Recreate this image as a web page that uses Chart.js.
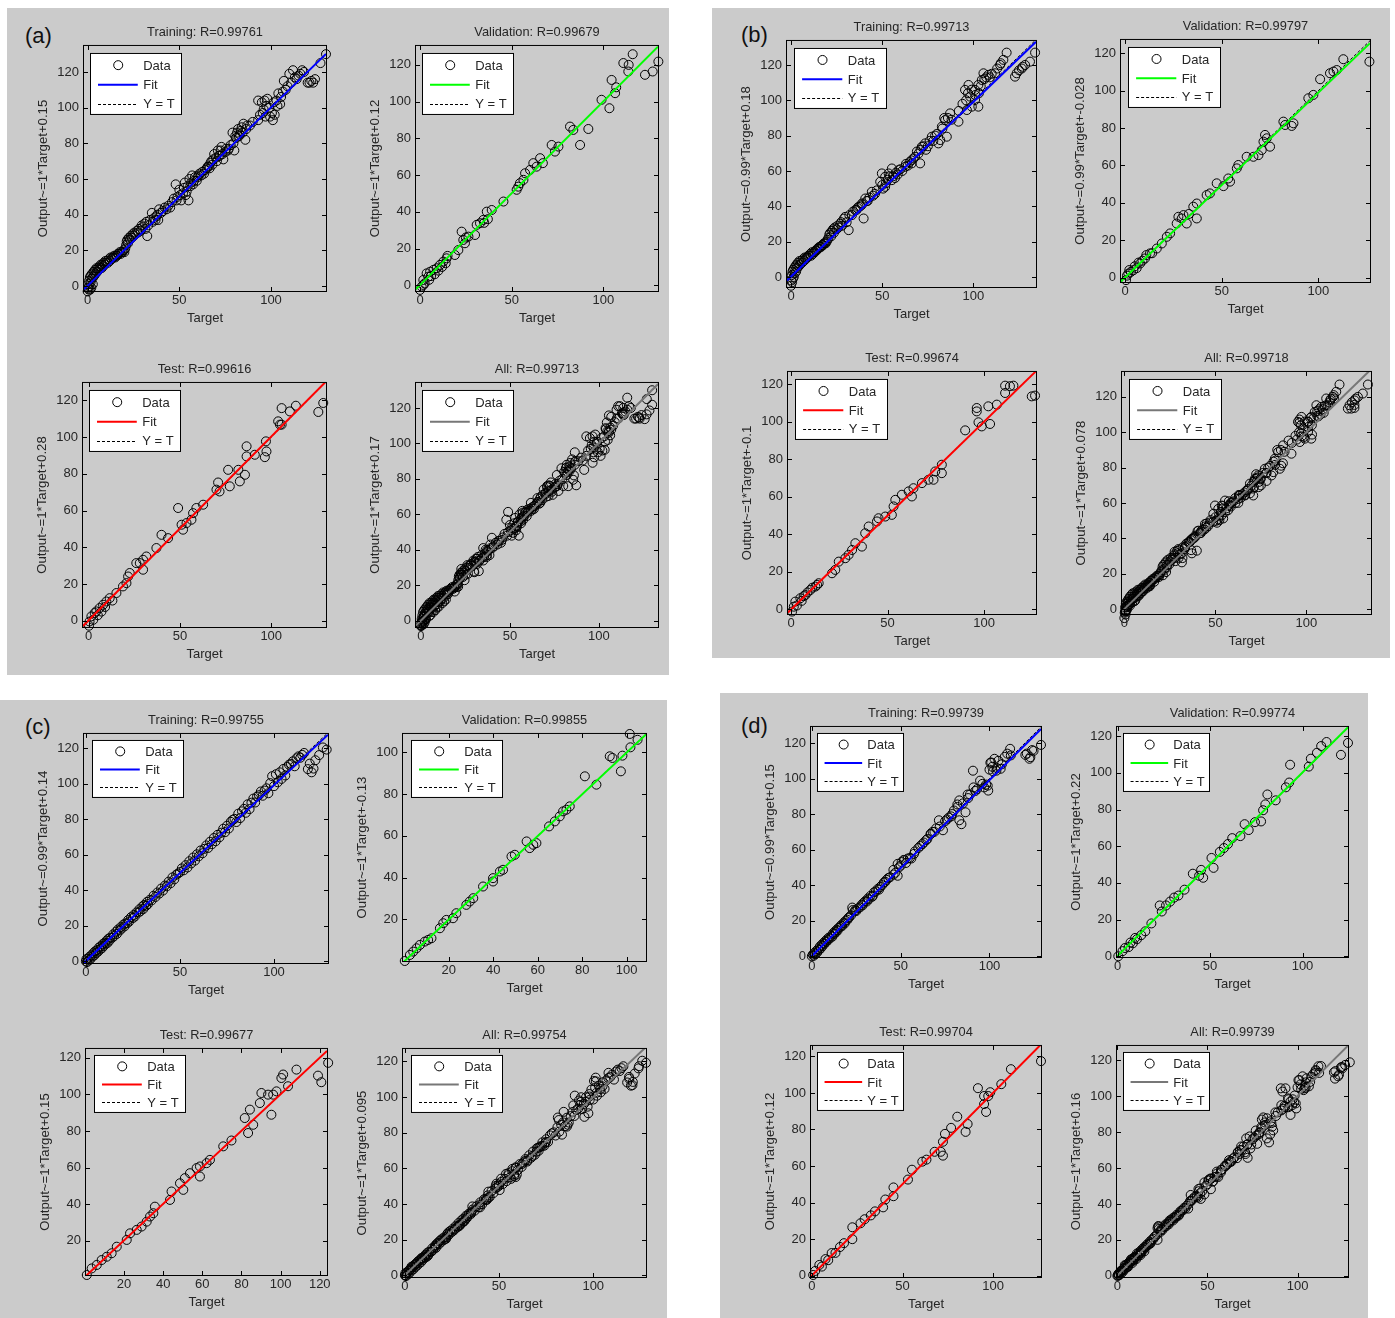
<!DOCTYPE html>
<html lang="en">
<head>
<meta charset="UTF-8">
<title>Regression plots</title>
<script src="https://cdn.jsdelivr.net/npm/chart.js@4.4.0/dist/chart.umd.min.js"></script>
<style>
  body { margin: 0; background: #fff; }
  #page { position: relative; width: 1395px; height: 1318px; overflow: hidden; }
  .panel { position: absolute; background: #cbcbcb; }
  .tag { position: absolute; font: 22px 'Liberation Sans', Arial, sans-serif; color: #111; line-height: 1; }
  .plot { position: absolute; }
</style>
</head>
<body>
<div id="page"></div>
<script>
// ---- data: [target, output] pairs ----
const subsets = ['Training', 'Validation', 'Test', 'All'];
const fitColors = ['#0000ff', '#00ff00', '#ff0000', '#777777'];

// panel (a)
const aTrain = [[0,-3],[0.2,-1],[0.4,1],[0.6,-2],[0.8,3],[1,0],[1.2,5],[1.4,-2],[1.6,2],[1.8,6],[2,-1],[2.2,4],[2.5,7],[2.8,1],[3,5],
  [3.3,8],[3.7,6],[4,9],[4.4,7],[4.8,10],[5.2,8],[5.6,10],[6,9],[6.4,11],[6.8,10],[7.2,12],[7.6,10],[8,12],[8.4,11],[8.8,13],[9.2,12],[9.6,14],[10,13],[10.5,14],[11,13],[11.5,15],[12,14],[12.5,16],[13,15],[13.5,16],[14,16],[14.5,17],[15,16],[15.5,17],[16,17],[16.5,18],[17,18],[17.5,19],[18,18],[18.5,19],[19,19],[19.5,20],[20,19],[20.5,21],[21,23],[21.3,25],[21.7,26],[22,24],[22.5,27],[23,26],[23.5,28],[24,27],[24.5,29],[25,28],[25.5,30],[26,29],[27,31],[27.5,30],[28,32],[29,31],[29.5,34],[30,33],[31,35],[31.5,32],[32,36],[32.5,28],[33,34],[34,37],[35,41],[35.5,36],[36,38],[37,37],[37.5,39],[38,40],[38.5,37],[39,43],[40,41],[41,42],[42,44],[43,43],[44,45],[45,44],[46,47],[47,49],[48,57],[48.5,48],[49,50],[50,54],[50.5,51],[51,48],[52,52],[52.5,55],[53,58],[53.5,51],[54,53],[54.5,56],[55,48],[55.5,60],[56,56],[56.5,58],[57,62],[57.5,57],[58,59],[58.5,61],[59.5,59],[60,61],[60.5,62],[61,63],[62,62],[62.5,64],[63.5,63],[64,65],[65,66],[65.5,67],[66,67],[66.5,66],[67,69],[67.5,70],[68,68],[68.5,71],[69,74],[70,72],[70.5,70],[71,76],[71.5,73],[72,73],[72.5,76],[73,78],[73.5,74],[74,71],[75,75],[75.5,77],[76.5,76],[77,77],[78,79],[79,86],[79.5,80],[80,76],[80.5,84],[81,83],[81.5,86],[82,88],[82.5,84],[83,85],[83.5,87],[84,89],[84.5,86],[85,91],[86,82],[86.5,88],[87,90],[88.5,90],[90,92],[93,93],[93,104],[94,96],[95,103],[95.5,97],[96,99],[96.5,104],[97,95],[97.5,101],[98,105],[99,100],[99.5,95],[100.5,97],[101,93],[101.5,103],[102,96],[103,104],[103.5,101],[104,108],[105,102],[105.5,106],[106.5,109],[107,115],[108,110],[109,112],[110,119],[111,114],[112,121],[113,117],[114,116],[115,118],[116,119],[117,121],[118,120],[120,114],[121,114],[122,115],[123,114],[124,116],[127,125],[130,130]];
const aVal = [[0,-2.5],[0.9,-0.7],[1.8,0.2],[1.8,2.9],[2.5,1],[3.6,6.5],[4.5,4.7],[5,3],[5.5,7.4],[6,5],[7.3,8.4],[8,6],[9.1,9.3],[10,8],[10.9,11.1],[12,10],[12.7,12.9],[14,12],[14.5,14.7],[15,16],[19,16.5],[20.9,19.2],[22.7,29.2],[23.6,24.7],[24.5,22.9],[25,26],[26.4,26.5],[30,27.4],[30.9,32.9],[32.7,33.8],[34.5,35.6],[35,34],[36.4,40.1],[37,36],[39.1,41],[45.5,45.6],[52.7,52],[53.6,53.7],[54.5,55.6],[56.4,57.4],[57.3,61],[60,62.8],[61.8,66.5],[63.6,64.6],[65.5,69.2],[67,66.5],[71.8,76.4],[73.6,72.8],[75.5,75.5],[81.8,86.4],[83.6,84.6],[87.3,76.4],[91.8,85.1],[99,101],[103.3,96.4],[104.5,111.8],[106.4,104.6],[107,107.8],[110.9,121],[113.6,116.4],[113.8,120],[116,125.8],[122.7,114.6],[126.9,116.4],[130,121.8]];
const aTest = [[0.2,-2.7],[0.5,-0.4],[1.5,2.4],[2.5,0.5],[3.3,4.2],[4.2,5.1],[5,3],[6,6.9],[7,5],[7.9,8.7],[9,7.5],[9.7,10.5],[11.5,12.3],[13,11],[15.2,15.1],[18.8,18.7],[20.7,20.5],[21.6,24.1],[22.5,26],[26.1,31.4],[28,31.4],[29.8,33.2],[29.8,27.8],[31.6,35],[37.1,39.6],[39.9,46.8],[43.5,45],[49,61.4],[50.9,52.3],[51.7,49.6],[53.6,53.2],[56.3,55],[57.2,58.6],[59,61.4],[62.7,63.2],[70,71.4],[70.9,75.3],[71.7,70.4],[76.4,82.2],[77.3,73.2],[82,82.2],[82.8,75.9],[85.6,79.5],[86.5,95],[86.5,89.5],[91,90.4],[96.5,89.1],[97.4,92.2],[97.1,97.7],[103.8,108.6],[104.8,106.8],[105.7,115.8],[105.7,106.8],[110.2,114],[113.5,117.1],[125.8,113.7],[128.5,118.6]];
const aR = ['0.99761', '0.99679', '0.99616', '0.99713'];
const aSlope = [1, 1, 1, 1];
const aIcpt = [0.15, 0.12, 0.28, 0.17];

// panel (b)
const bTrain = [[0,-5],[0.2,-2],[0.4,1],[0.6,-3],[0.8,3],[1,-1],[1.2,4],[1.5,0],[1.8,5],[2,2],[2.4,6],[2.8,3],[3,7],
  [3.4,5],[3.8,8],[4.2,6],[4.6,9],[5,7],[5.5,9],[6,8],[6.5,10],[7,9],[7.5,11],[8,10],[8.5,11],[9,11],[9.5,12],[10,12],[10.5,13],[11,12],[11.5,14],[12,13],[12.5,14],[13,14],[13.5,15],[14,15],[14.5,16],[15,16],[15.5,17],[16,17],[16.5,17],[17,18],[17.5,18],[18,19],[18.5,19],[19,19],[19.5,20],[20,21],[20.5,22],[21,24],[21.5,25],[22,23],[22.5,26],[23,27],[23.5,25],[24,28],[25,27],[25.5,29],[26,28],[27,30],[27.5,31],[28,29],[29,33],[29.7,34],[30.5,31],[31.6,26.5],[32,35],[33.4,35],[34,37],[35.2,37.8],[36,38],[36.5,39],[37,39.7],[38,40],[38.9,41.6],[39,41],[39.8,33.1],[40.7,44.4],[41.5,43],[42,43],[43,45],[44.3,48.2],[45,46],[46,47],[47,49],[48.9,53.9],[49.8,58.6],[50,52],[50.5,50],[51.6,51],[51.6,56.7],[52,53],[53,55],[53.5,58.6],[54,57],[55.3,61.4],[55.3,54.8],[56,57],[57,56],[57.5,59],[58.5,58],[59,60.5],[60,61],[61,60],[62.6,62.4],[63,64],[64,63],[65,65],[66,66],[66.2,64.3],[67.2,67.1],[68,68],[69,71],[69.9,69.9],[70.8,64.3],[71,72],[71.7,73.7],[72.5,74],[73.5,75.6],[74,72],[75,74],[76,77],[77.2,79.4],[78,77],[79,80],[80,81],[80.8,75.6],[81.8,77.5],[82.7,85.1],[83,84],[84,90],[84.5,88.8],[85.4,79.4],[86,90],[87.2,92.6],[88,89],[91.8,87.9],[92,94],[94,98],[95.4,105.9],[96,100],[96.4,94.5],[97,104],[97.3,108.7],[98.2,102.1],[99,106],[99.1,96.4],[100.9,100.2],[100.9,105.9],[101,103],[102.7,96.4],[102.7,108.7],[103,104],[104,108],[104.6,111.5],[105.5,115.3],[106,112],[107,113],[108.2,114.4],[109,113],[110,115],[111.9,115.3],[113,118],[114.6,120],[115,121],[116.4,122.9],[118.2,127],[122.8,113.4],[123.7,115.3],[125,117],[126.5,118],[127,119],[128.3,120],[131,121.9],[133.8,127]];
const bVal = [[0.5,-1.4],[1,1],[1.7,2.1],[2.2,4],[3,3],[4.3,3.9],[5,6],[6,5],[7,8],[7.8,7.5],[9,9],[10.3,10.2],[11,12],[12.9,12.9],[14,13],[16.4,15.5],[19,18.2],[21.6,21.8],[23.3,23.6],[26.7,28.9],[27.6,32.5],[29.3,31.6],[30.2,33.4],[31.9,28.9],[33,34],[35.3,37.9],[37.1,39.6],[37.1,31.6],[42.2,44.1],[43.9,45],[47.4,50.4],[50.9,48.9],[53.4,53],[54.3,51.3],[57.8,58.4],[58.6,60.2],[62.9,64.6],[66.4,64.6],[69,65.5],[70.7,68.2],[71.6,72.7],[72.4,76.3],[73.3,74.5],[75,70],[81.9,83.4],[82.8,81.6],[86.2,81.1],[87.1,82.5],[94.8,95.9],[97.4,97.7],[100.9,106.1],[106,109.3],[107.8,110.2],[109.5,111],[112.9,116.8],[126.4,115.5]];
const bTest = [[0.5,-1.2],[1.4,1.4],[2.2,4.1],[3,2],[4.8,5.9],[5.5,4.5],[6.5,7],[7.4,7.6],[8.5,9],[10,10.3],[11,11.5],[12.6,12.1],[13.5,13],[14.3,13.9],[21.2,19.2],[22.9,21],[24.7,25.4],[28.1,27.2],[29.8,29],[31.6,31.6],[33.3,35.2],[36.7,33.4],[38.4,40.5],[40.2,44.1],[44.5,46.8],[45.3,48.5],[48.8,49.4],[52.2,50.3],[53.1,54.8],[54,58.3],[57.4,61],[60.9,62.8],[62.6,60.1],[63.4,64.5],[67.8,67.2],[71.2,69],[73.8,69],[74.7,73.4],[78.1,72.5],[78.1,77],[90.2,95.3],[96.2,105.4],[96.2,107.2],[97.1,99.6],[98.8,97.4],[102.2,108.1],[103.1,98.7],[106.6,109],[110.9,115.2],[110.9,119.1],[113.4,118.8],[115.2,119.1],[124.7,113.4],[126.4,113.8]];
const bR = ['0.99713', '0.99797', '0.99674', '0.99718'];
const bSlope = [0.99, 0.99, 1, 1];
const bIcpt = [0.18, -0.028, -0.1, 0.078];

// panel (c)
const cTrain = [[0,0],[0.3,1.2],[0.6,-0.5],[1,1.5],[1.5,0.4],[2,2.6],[2.5,1.3],[3,3.4],[3.5,2.7],[4,4.6],[4.5,3.3],[5,5.7],[5.5,4.6],[6,6.3],[6.5,5.4],[7,7.8],[7.5,6.6],[8,8.4],[8.5,7.3],[9,9.7],[9.5,8.6],[10,10.4],[10.5,9.8],[11,11.6],[11.5,10.3],[12,12.7],[12.5,11.6],[13,13.3],[14,13.2],[14.5,15.1],[15,14.2],[16,16.6],[16.5,15.4],[17,17.8],[18,17.3],[18.5,19.2],[19,18.4],[20,20.7],[20.5,19.6],[21,21.3],[22,21.4],[22.5,23.2],[23,22.3],[24,24.8],[25,24.3],[25.5,26.1],[26,25.2],[27,27.6],[28,27.4],[28.5,29.3],[29,28.2],[30,30.8],[30.5,29.4],[31,31.7],[32,31.2],[32.5,33.4],[33,32.2],[34,34.6],[35,34.3],[36,36.9],[37,36.2],[38,38.7],[39,38.1],[40,40.9],[41,39.8],[42,42.6],[43,42.2],[44,44.8],[45,43.9],[46,47.2],[47,46.1],[48,48.7],[49,49.4],[50,50.2],[51,52.3],[52,51.2],[53,54.1],[54,52.8],[55,56.3],[56,55.1],[57,58.4],[58,56.7],[59,60.2],[60,59.1],[61,62.4],[62,60.8],[63,63.3],[64,65.2],[65,63.8],[66,67.3],[67,65.9],[68,69.4],[69,67.6],[70,71.2],[71,69.8],[72,72.4],[73,74.6],[74,72.7],[75,76.3],[76,74.8],[77,78.5],[78,79.6],[79,80.2],[80,78.4],[81,83.1],[82,80.6],[83,84.4],[84,85.8],[85,83.6],[86,88.4],[87,85.7],[88,89.3],[89,91.6],[90,89.4],[91,92.7],[92,93.5],[93,95.6],[94,93.2],[95,96.1],[96,97.4],[97,94.6],[98,100.3],[99,104.2],[100,98.6],[101,105.3],[102,100.8],[103,106.4],[104,102.7],[105,108.3],[106,104.6],[107,109.4],[108,110.7],[109,111.2],[110,112.6],[111,109.8],[112,114.3],[113,115.4],[114,114.6],[115,116.2],[116,117.3],[118,108.2],[119,111.3],[120,106.4],[121,108.5],[122,113.2],[124,116.1],[126,120.4],[128,119.2]];
const cVal = [[0.2,0],[2.5,2.9],[4,4.5],[5.5,6.1],[7,7.7],[9.2,9.3],[10.7,10.1],[12.2,10.9],[16,15.7],[17.5,18.1],[18.9,19.7],[21.9,20.5],[23.4,22.9],[27.9,26.9],[29.4,28.5],[31,30.1],[35.4,35.7],[39.9,38.1],[39.9,39.7],[43,42.9],[44.4,43.7],[48.2,50.1],[49.7,50.9],[55,57.3],[56.4,54.1],[58,55.7],[59.4,56.5],[65.1,64.5],[67.7,66.9],[69.9,69.3],[71.4,71.7],[72.9,72.5],[74.4,74.1],[81.2,88.5],[86.4,84.5],[92.4,98.1],[93.6,97.3],[97.4,90.9],[98.1,98.4],[101.4,108.8],[101.7,102.4],[104.9,106]];
const cTest = [[1,1.2],[3.5,4.8],[6.1,6.7],[8.6,9.4],[11.2,11.2],[13.7,13.1],[16.3,16.7],[21.4,20.4],[23.1,24],[26.5,25.9],[29,27.7],[31.6,30.4],[33.3,33.2],[35,35],[35.8,38.6],[43.5,42.3],[44.3,46.9],[48.6,51.4],[50.3,47.8],[51.1,54.2],[53.7,56.9],[57.1,59.7],[58.8,55.1],[58.8,60.6],[62.2,62.4],[63.9,64.2],[70.7,71.6],[74.9,74.8],[81.7,87.1],[83.4,78.9],[84.3,91.7],[86,83.4],[89.4,95.3],[90.2,100.8],[93.6,99.9],[95.3,88.9],[96.2,99.9],[97.9,101.7],[100.4,109],[101.3,110.9],[103.8,104.5],[108.1,113.6],[119.1,110.3],[120.8,106.7],[124.3,117.3]];
const cR = ['0.99755', '0.99855', '0.99677', '0.99754'];
const cSlope = [0.99, 1, 1, 1];
const cIcpt = [0.14, -0.13, 0.15, 0.095];

// panel (d)
const dTrain = [[0,0],[0.5,1],[1,0.3],[1.5,2],[2,1.2],[2.5,3],[3,2.2],[3.5,4],[4,3.5],[4.5,5.5],[5,4.5],[5.5,6.5],[6,5.8],[6.5,7.5],[7,7],[7.5,8.5],[8,8],[8.5,9.5],[9,9],[9.5,10.5],[10,10],[11,11.5],[11.5,11],[12,13],[12.5,12.5],[13,14],[13.5,13.5],[14,15],[14.5,14.5],[15,16],[16,16.5],[16.5,17.5],[17,17],[18,19],[18.5,18.5],[19,20],[20,20.5],[20.5,21.5],[21,22],[22,23],[22.7,27.4],[23,26],[24,25.2],[24.5,26],[25,25.5],[26,27],[27,27.5],[28,29],[28.5,28.6],[29,30],[30,31],[30.9,30.8],[31.5,32.5],[32,32],[33,34],[34,33.5],[34.3,34.1],[35,36],[36,36.5],[37,37.8],[37.8,37.5],[38.5,39],[39.5,40],[40.5,41.5],[41.3,41.9],[42,43],[43,44],[44,44.5],[45.9,48.6],[46,46],[47,47],[48.3,45.3],[48.3,52],[49,50],[50,51],[50.5,53],[51.7,54.2],[52,54],[53,52.5],[54,55],[55.2,55.3],[56,55],[57.5,57.6],[58,59],[59.9,60.9],[61,62],[62.2,63.1],[63,64],[64.4,65.4],[65,66],[66.8,68.7],[67,69],[68,70],[69,70],[70,72],[71.5,76.5],[72,73],[73.8,70.9],[75,76],[76,77],[77,78],[78.4,78.7],[79,80],[80,82],[81.9,85.4],[82,84],[83,87.7],[83,76.5],[84.2,74.3],[85,86],[86.5,81],[87.7,91],[88,89],[89,91],[90.7,104.4],[91,95],[92,93],[93,94],[94.7,98.8],[96,97],[97,95],[98.1,96.6],[99,96],[99.3,93.2],[100,105],[100.5,108.9],[101,109],[101.6,106.6],[102,104],[102.8,111.1],[103.9,104.4],[104,106],[105,110],[106.3,105.5],[107,108],[108.6,112.2],[110,114],[111.6,116.7],[112,113],[120.2,113.3],[121,114],[122.5,111.1],[123,112],[124,116],[124.8,115.5],[129,118.9]];
const dVal = [[0.4,0],[2.7,2.8],[4,4.5],[6,5],[7,7.5],[8.3,7.1],[9.5,10],[10.5,9.3],[12.8,11.5],[15,13.6],[18.3,17.9],[22.8,27.7],[23.9,24.4],[26.2,27.7],[28.4,29.8],[30.6,32],[32.9,33.1],[36.2,36.3],[40.7,45],[44.1,43.9],[45.2,47.1],[46.3,42.8],[50.8,53.6],[51.9,48.2],[55.3,56.9],[57.5,59],[59.7,61.2],[62,64.4],[66.4,65.5],[68.7,72],[70.9,68.8],[74.3,73.1],[77.6,73.5],[78.7,79.6],[79.9,82.8],[81,88.2],[85.5,85],[91,92.1],[92.8,94.7],[93.3,104.4],[103.4,103.4],[104.5,107.7],[107.8,110.9],[110.1,114.6],[113,116.8],[120.8,109.8],[124.6,116.3]];
const dTest = [[0.7,0.4],[1.8,2.6],[4.1,5.9],[5.5,5],[7.5,9.1],[9,8.5],[10.9,12.4],[13,12.5],[15.5,15.7],[17.7,17.8],[22.3,20],[22.3,26.5],[26.8,28.7],[29.1,30.9],[32.5,33],[34.8,35.2],[39.3,37.4],[40.5,41.7],[45,43.5],[45,48.3],[53,52.6],[55.2,58],[60.9,62.4],[63.2,63.5],[67.7,67.8],[71.1,67.8],[72.3,65.7],[72.3,73.3],[73.4,77.6],[76.8,80.9],[80.2,87],[84.8,78.7],[85.9,83],[91.6,102.6],[95,93.9],[95,98.3],[96.1,89.6],[97.3,98.3],[98.4,100.4],[104.5,104.8],[109.8,113],[126.4,117.4]];
const dR = ['0.99739', '0.99774', '0.99704', '0.99739'];
const dSlope = [0.99, 1, 1, 1];
const dIcpt = [0.15, 0.22, 0.12, 0.16];

// tick values
const ticks50 = [0, 50, 100];
const ticks20 = [0, 20, 40, 60, 80, 100, 120];
const cValTicks = [20, 40, 60, 80, 100];
const cTestTicks = [20, 40, 60, 80, 100, 120];

// ---- layout ----
const panelRects = { a: [7, 8, 662, 667], b: [712, 8, 678, 650], c: [0, 700, 667, 618], d: [720, 693, 648, 625] };
const tagPos = { a: [25, 25], b: [741, 24], c: [25, 716], d: [741, 715] };
// plot boxes: left, top, right, bottom
const boxes = {
  a: [[84, 46, 326, 291], [416, 46, 658, 291], [83, 383, 326, 627], [416, 383, 658, 627]],
  b: [[787, 41, 1036, 287], [1121, 40, 1370, 282], [788, 372, 1036, 614], [1122, 372, 1371, 614]],
  c: [[84, 734, 328, 963], [403, 734, 646, 961], [86, 1049, 327, 1275], [403, 1049, 646, 1277]],
  d: [[811, 727, 1041, 957], [1117, 727, 1348, 957], [811, 1046, 1041, 1277], [1117, 1046, 1348, 1277]]
};
// axis limits: xmin, xmax, ymin, ymax
const limits = {
  a: [[-2, 130, -2.8, 134.6], [-2.2, 129.8, -3.1, 130.3], [-3.1, 130, -3.4, 129.5], [-2.8, 133.3, -3.5, 134.1]],
  b: [[-2.2, 134.3, -5.7, 133.6], [-2.1, 126.7, -2.4, 127.1], [-1.6, 126.9, -2.5, 126.4], [-1.3, 135.5, -2.7, 134.1]],
  c: [[-1, 128.7, -1, 128], [-0.6, 108.7, 0, 108.8], [0.6, 123.7, 1.2, 124.9], [-1, 128, -1, 127]],
  d: [[-0.5, 129, -0.4, 129], [-0.3, 124.6, -0.4, 125], [-0.5, 126.4, -0.7, 125.7], [-0.2, 128, -0.7, 128]]
};
const legendBox = { a: [6, 7, 91, 61], b: [7, 7, 92, 60], c: [8, 6, 91, 57], d: [6, 6, 86, 58] };

const panels = {
  a: { sets: [aTrain, aVal, aTest], r: aR, slope: aSlope, icpt: aIcpt },
  b: { sets: [bTrain, bVal, bTest], r: bR, slope: bSlope, icpt: bIcpt },
  c: { sets: [cTrain, cVal, cTest], r: cR, slope: cSlope, icpt: cIcpt },
  d: { sets: [dTrain, dVal, dTest], r: dR, slope: dSlope, icpt: dIcpt }
};

const FONT = "'Liberation Sans', Arial, sans-serif";
const TXT = '#262626';
Chart.defaults.font.family = FONT;
Chart.defaults.color = TXT;

// axes box, inward ticks and the Data/Fit/Y=T legend
const framePlugin = {
  id: 'frame',
  afterDraw(chart, args, opts) {
    const { ctx, chartArea: a, scales: { x, y } } = chart;
    ctx.save();
    ctx.strokeStyle = '#000';
    ctx.lineWidth = 1;
    ctx.beginPath();
    x.ticks.forEach(t => {
      const px = Math.round(x.getPixelForValue(t.value)) + 0.5;
      ctx.moveTo(px, a.bottom); ctx.lineTo(px, a.bottom - 4);
      ctx.moveTo(px, a.top); ctx.lineTo(px, a.top + 4);
    });
    y.ticks.forEach(t => {
      const py = Math.round(y.getPixelForValue(t.value)) + 0.5;
      ctx.moveTo(a.left, py); ctx.lineTo(a.left + 4, py);
      ctx.moveTo(a.right, py); ctx.lineTo(a.right - 4, py);
    });
    ctx.stroke();
    ctx.strokeRect(a.left - 0.5, a.top - 0.5, a.right - a.left + 1, a.bottom - a.top + 1);

    const [dx, dy, w, h] = opts.box;
    const lx = a.left + dx, ly = a.top + dy;
    ctx.fillStyle = '#fff';
    ctx.fillRect(lx, ly, w, h);
    ctx.strokeRect(lx + 0.5, ly + 0.5, w, h);
    const rows = [ly + h * 0.2, ly + h * 0.52, ly + h * 0.83];
    const x0 = lx + w * 0.088, x1 = lx + w * 0.525;
    ctx.beginPath();
    ctx.arc(lx + w * 0.31, rows[0], 4.5, 0, Math.PI * 2);
    ctx.stroke();
    ctx.strokeStyle = opts.color;
    ctx.lineWidth = 2;
    ctx.beginPath(); ctx.moveTo(x0, rows[1]); ctx.lineTo(x1, rows[1]); ctx.stroke();
    ctx.strokeStyle = '#000';
    ctx.lineWidth = 1;
    ctx.setLineDash([3, 2]);
    ctx.beginPath(); ctx.moveTo(x0, Math.round(rows[2]) + 0.5); ctx.lineTo(x1, Math.round(rows[2]) + 0.5); ctx.stroke();
    ctx.setLineDash([]);
    ctx.fillStyle = TXT;
    ctx.font = '13px ' + FONT;
    ctx.textBaseline = 'middle';
    ['Data', 'Fit', 'Y = T'].forEach((s, i) => ctx.fillText(s, lx + w * 0.585, rows[i] + 1));
    ctx.restore();
  }
};

const page = document.getElementById('page');

Object.keys(panels).forEach(key => {
  const pr = panelRects[key];
  const bg = document.createElement('div');
  bg.className = 'panel';
  Object.assign(bg.style, { left: pr[0] + 'px', top: pr[1] + 'px', width: pr[2] + 'px', height: pr[3] + 'px' });
  page.appendChild(bg);
  const tag = document.createElement('div');
  tag.className = 'tag';
  tag.textContent = '(' + key + ')';
  tag.style.left = tagPos[key][0] + 'px';
  tag.style.top = tagPos[key][1] + 'px';
  page.appendChild(tag);

  const p = panels[key];
  const allPts = p.sets[0].concat(p.sets[1], p.sets[2]);
  const pts = [p.sets[0], p.sets[1], p.sets[2], allPts];

  subsets.forEach((name, i) => {
    const [L, T, R, B] = boxes[key][i];
    const [xmin, xmax, ymin, ymax] = limits[key][i];
    const W = R - L, H = B - T;
    let xt = ticks50, yt = ticks20;
    if (key === 'c' && i === 1) { xt = cValTicks; yt = cValTicks; }
    if (key === 'c' && i === 2) { xt = cTestTicks; yt = cTestTicks; }
    const s = p.slope[i], b = p.icpt[i];
    const lo = Math.min(xmin, ymin), hi = Math.max(xmax, ymax);

    const holder = document.createElement('div');
    holder.className = 'plot';
    holder.style.left = (L - 60) + 'px';
    holder.style.top = (T - 25) + 'px';
    const cv = document.createElement('canvas');
    cv.width = W + 70;
    cv.height = H + 65;
    cv.style.width = (W + 70) + 'px';
    cv.style.height = (H + 65) + 'px';
    holder.appendChild(cv);
    page.appendChild(holder);

    new Chart(cv, {
      type: 'scatter',
      data: {
        datasets: [
          {
            label: 'Fit', showLine: true, order: 0, pointRadius: 0,
            borderColor: fitColors[i], borderWidth: 2,
            data: [{ x: xmin, y: s * xmin + b }, { x: xmax, y: s * xmax + b }]
          },
          {
            label: 'Y = T', showLine: true, order: 1, pointRadius: 0,
            borderColor: '#000', borderWidth: 1, borderDash: [3, 2],
            data: [{ x: lo, y: lo }, { x: hi, y: hi }]
          },
          {
            label: 'Data', order: 2, clip: false,
            pointStyle: 'circle', pointRadius: 4.5, borderWidth: 1,
            borderColor: '#000', backgroundColor: 'rgba(0,0,0,0)',
            data: pts[i].map(d => ({ x: d[0], y: d[1] }))
          }
        ]
      },
      options: {
        responsive: false,
        animation: false,
        events: [],
        layout: { padding: { left: 0, right: 10, top: 0, bottom: 0 } },
        scales: {
          x: {
            type: 'linear', min: xmin, max: xmax,
            afterBuildTicks: sc => { sc.ticks = xt.map(v => ({ value: v })); },
            afterFit: sc => { sc.height = 40; },
            grid: { display: false, drawTicks: false },
            border: { display: false },
            ticks: { padding: 2, color: TXT, font: { size: 13 }, maxRotation: 0 },
            title: { display: true, text: 'Target', color: TXT, font: { size: 13, lineHeight: 1.2 }, padding: { top: 0, bottom: 5 } }
          },
          y: {
            type: 'linear', min: ymin, max: ymax,
            afterBuildTicks: sc => { sc.ticks = yt.map(v => ({ value: v })); },
            afterFit: sc => { sc.width = 60; },
            grid: { display: false, drawTicks: false },
            border: { display: false },
            ticks: { padding: 5, color: TXT, font: { size: 13 } },
            title: { display: true, text: 'Output~=' + s + '*Target+' + b, color: TXT, font: { size: 13.2, lineHeight: 1.2 }, padding: { top: 11, bottom: 0 } }
          }
        },
        plugins: {
          legend: { display: false },
          tooltip: { enabled: false },
          title: {
            display: true, fullSize: false, text: name + ': R=' + p.r[i], color: TXT,
            font: { size: 12.8, weight: 'normal', lineHeight: 1.2 }, padding: { top: 3.5, bottom: 6.1 }
          },
          frame: { box: legendBox[key], color: fitColors[i] }
        }
      },
      plugins: [framePlugin]
    });
  });
});
</script>
</body>
</html>
